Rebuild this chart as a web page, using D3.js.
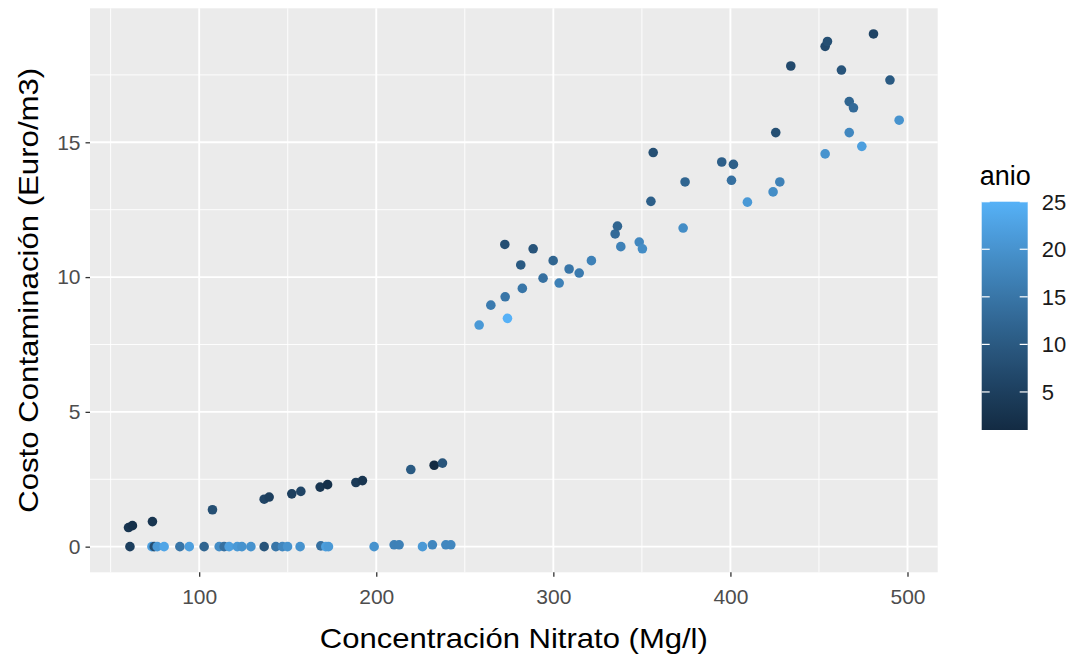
<!DOCTYPE html>
<html><head><meta charset="utf-8">
<script src="https://cdn.jsdelivr.net/npm/d3@7"></script>
<style>body{margin:0;background:#fff;} text{font-family:"Liberation Sans",Arial,sans-serif;}</style>
</head><body><svg id="c" width="1075" height="656"></svg>
<script>
// Data: Concentración Nitrato (Mg/l), Costo Contaminación (Euro/m3), anio
const nitrato = [
 60.9,73.3,74.6,76.3,80.2,89.1,94.4,102.8,111.3,114.1,116.9,121.5,124.1,129.2,136.7,143.3,147.0,149.9,157.0,168.7,171.5,173.0,198.8,210.1,212.9,226.1,231.7,239.3,242.1,
 60.1,62.3,73.6,107.5,136.7,139.5,152.3,157.4,168.3,172.5,188.5,192.2,219.5,232.7,237.4,
 258.1,264.7,272.8,274.1,272.6,281.6,282.5,288.6,294.2,299.9,303.3,308.9,314.6,321.5,334.9,336.2,338.1,348.5,350.3,355.1,356.4,373.3,374.4,395.1,401.7,400.6,409.6,424.1,427.9,425.6,434.1,453.5,454.8,453.5,462.7,467.1,469.5,467.1,474.2,480.8,490.1,495.3
];
const costo = [
 0,0,0,0,0,0,0,0,0,0,0,0,0,0,0,0,0,0,0,0.03,0,0,0,0.07,0.07,0,0.07,0.07,0.07,
 0.71,0.78,0.93,1.37,1.76,1.84,1.96,2.05,2.21,2.30,2.38,2.45,2.86,3.02,3.10,
 8.22,8.96,9.27,8.47,11.21,10.45,9.58,11.05,9.96,10.61,9.78,10.30,10.15,10.61,11.60,11.89,11.13,11.30,11.05,12.81,14.62,11.82,13.53,14.27,14.18,13.59,12.78,13.16,13.53,15.36,17.83,18.56,18.74,14.57,17.68,16.51,16.28,15.36,14.85,19.02,17.31,15.82
];
const anio = [
 5,22,8,21,23,15,22,12,19,14,22,21,20,20,9,15,18,20,20,14,22,21,20,17,17,21,18,18,18,
 3,2,3,8,6,5,5,6,3,2,4,3,10,1,9,
 21,16,15,25,8,10,15,9,14,12,17,15,16,17,13,12,17,18,19,11,8,19,12,11,11,14,21,19,17,8,7,7,8,20,9,12,13,18,22,6,10,20
];
const xTicks = [100,200,300,400,500];
const yTicks = [0,5,10,15];
const legendTicks = [5,10,15,20,25];

const data = nitrato.map((d,i)=>({x:d,y:costo[i],a:anio[i]}));
const svg = d3.select("#c");
const L=90, R=937.7, T=8.3, B=572.3;

function expand(ext){const r=ext[1]-ext[0];return [ext[0]-0.05*r, ext[1]+0.05*r];}
const x = d3.scaleLinear().domain(expand(d3.extent(nitrato))).range([L,R]);
const y = d3.scaleLinear().domain(expand([0, d3.max(costo)])).range([B,T]);
const aExt = d3.extent(anio);
const col = d3.scaleLinear().domain(aExt).range(["#132B43","#56B1F7"]).interpolate(d3.interpolateLab);

svg.append("rect").attr("x",L).attr("y",T).attr("width",R-L).attr("height",B-T).attr("fill","#EBEBEB");
const g = svg.append("g");
const xMinor = d3.range(50,551,100).filter(v=>v>x.domain()[0]&&v<x.domain()[1]);
const yMinor = [2.5,7.5,12.5,17.5].filter(v=>v>y.domain()[0]&&v<y.domain()[1]);
g.selectAll(".xm").data(xMinor).join("line").attr("x1",d=>x(d)).attr("x2",d=>x(d)).attr("y1",T).attr("y2",B).attr("stroke","#fff").attr("stroke-width",0.9);
g.selectAll(".ym").data(yMinor).join("line").attr("y1",d=>y(d)).attr("y2",d=>y(d)).attr("x1",L).attr("x2",R).attr("stroke","#fff").attr("stroke-width",0.9);
g.selectAll(".xM").data(xTicks).join("line").attr("x1",d=>x(d)).attr("x2",d=>x(d)).attr("y1",T).attr("y2",B).attr("stroke","#fff").attr("stroke-width",1.9);
g.selectAll(".yM").data(yTicks).join("line").attr("y1",d=>y(d)).attr("y2",d=>y(d)).attr("x1",L).attr("x2",R).attr("stroke","#fff").attr("stroke-width",1.9);

svg.append("g").selectAll("circle").data(data).join("circle")
 .attr("cx",d=>x(d.x)).attr("cy",d=>y(d.y)).attr("r",4.8).attr("fill",d=>col(d.a));

const xAxis = svg.append("g").attr("transform",`translate(0,${B})`).call(d3.axisBottom(x).tickValues(xTicks).tickSize(4.5).tickPadding(12));
const yAxis = svg.append("g").attr("transform",`translate(${L},0)`).call(d3.axisLeft(y).tickValues(yTicks).tickSize(4.5).tickPadding(5));
[xAxis,yAxis].forEach(a=>{a.select(".domain").remove();a.selectAll(".tick line").attr("stroke","#333").attr("stroke-width",1.3);
 a.selectAll(".tick text").attr("fill","#4D4D4D").style("font-size","21px").style("font-family","'Liberation Sans',Arial,sans-serif");});
xAxis.selectAll(".tick text").attr("dy","0.71em");

svg.append("text").attr("x",(L+R)/2).attr("y",648).attr("text-anchor","middle").style("font-size","28px").attr("fill","#000")
 .attr("textLength",388).attr("lengthAdjust","spacingAndGlyphs").text("Concentración Nitrato (Mg/l)");
svg.append("text").attr("transform",`translate(38,${(T+B)/2}) rotate(-90)`).attr("text-anchor","middle").style("font-size","28px").attr("fill","#000")
 .attr("textLength",445).attr("lengthAdjust","spacingAndGlyphs").text("Costo Contaminación (Euro/m3)");

const lx=981.7, lw=46, lt=201.7, lb=430;
const ly = d3.scaleLinear().domain(aExt).range([lb,lt]);
const defs = svg.append("defs");
const grad = defs.append("linearGradient").attr("id","lg").attr("x1",0).attr("y1",1).attr("x2",0).attr("y2",0);
d3.range(0,1.0001,0.05).forEach(t=>grad.append("stop").attr("offset",t).attr("stop-color",col(aExt[0]+t*(aExt[1]-aExt[0]))));
svg.append("rect").attr("x",lx).attr("y",lt).attr("width",lw).attr("height",lb-lt).attr("fill","url(#lg)");
const lt2 = svg.append("g");
legendTicks.forEach(v=>{
  lt2.append("line").attr("x1",lx).attr("x2",lx+8).attr("y1",ly(v)).attr("y2",ly(v)).attr("stroke","#fff").attr("stroke-width",1.2);
  lt2.append("line").attr("x1",lx+lw-8).attr("x2",lx+lw).attr("y1",ly(v)).attr("y2",ly(v)).attr("stroke","#fff").attr("stroke-width",1.2);
  lt2.append("text").attr("x",lx+lw+14).attr("y",ly(v)).attr("dy","0.36em").style("font-size","22px").attr("fill","#1A1A1A").text(v);
});
svg.append("text").attr("x",lx-2).attr("y",185).style("font-size","27px").attr("fill","#000").text("anio");
</script></body></html>
